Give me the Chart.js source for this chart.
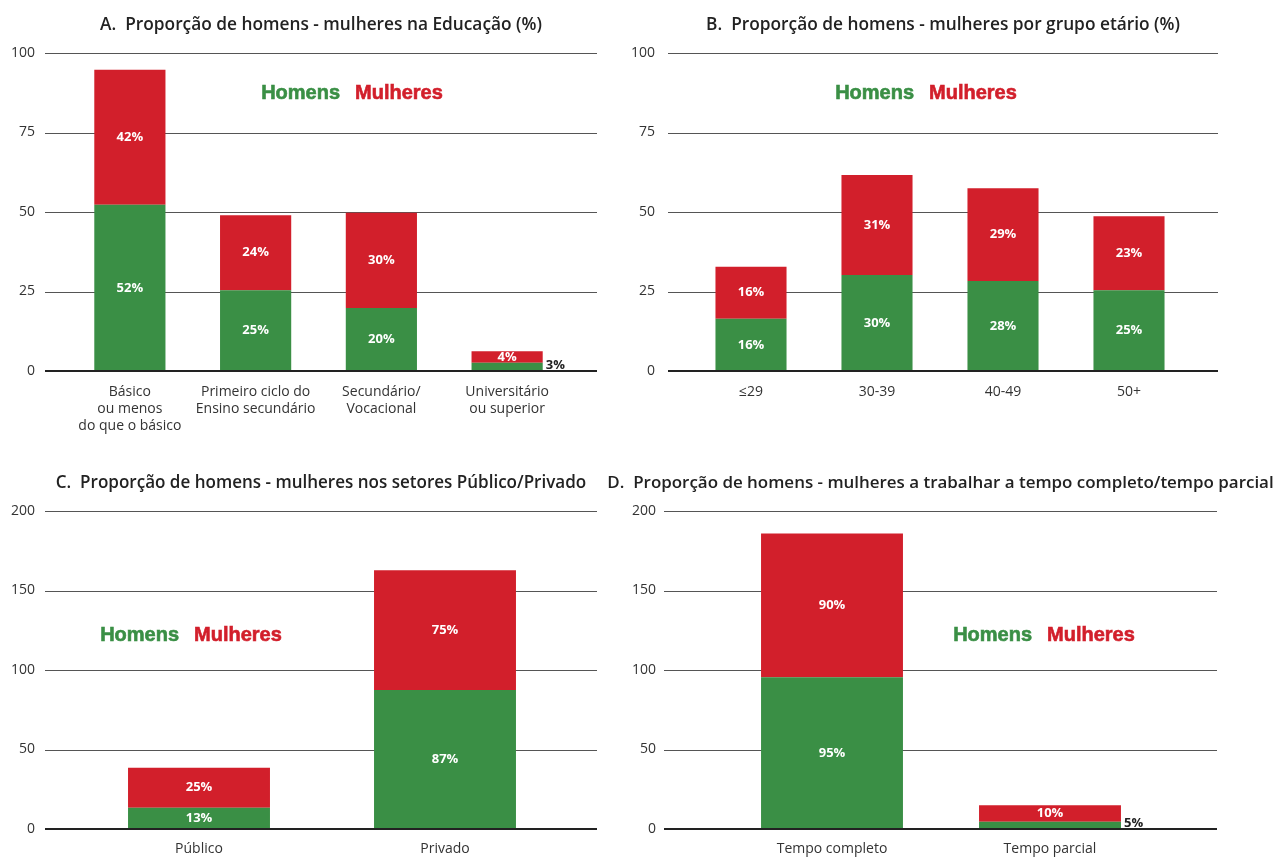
<!DOCTYPE html>
<html>
<head>
<meta charset="utf-8">
<script src="https://cdn.jsdelivr.net/npm/chart.js@4.4.1/dist/chart.umd.min.js"></script>
<style>
  html, body { margin: 0; padding: 0; background: #ffffff; }
  body { width: 1277px; height: 858px; position: relative; overflow: hidden; }
  canvas { position: absolute; }
</style>
</head>
<body>
<canvas id="cA" width="640" height="440" style="left:0px;top:0px"></canvas>
<canvas id="cB" width="657" height="440" style="left:620px;top:0px"></canvas>
<canvas id="cC" width="640" height="418" style="left:0px;top:440px"></canvas>
<canvas id="cD" width="677" height="418" style="left:600px;top:440px"></canvas>
<script>
// ---------------- DATA ----------------
const seriesNames = ['Homens', 'Mulheres'];

const titleA = 'A.  Proporção de homens - mulheres na Educação (%)';
const eduCategories = [['Básico', 'ou menos', 'do que o básico'], ['Primeiro ciclo do', 'Ensino secundário'], ['Secundário/', 'Vocacional'], ['Universitário', 'ou superior']];
const eduMen = [52.3, 25.4, 19.8, 2.6];
const eduWomen = [42.4, 23.6, 30.0, 3.6];
const eduTicks = [0, 25, 50, 75, 100];

const titleB = 'B.  Proporção de homens - mulheres por grupo etário (%)';
const ageCategories = ['≤29', '30-39', '40-49', '50+'];
const ageMen = [16.4, 30.2, 28.3, 25.4];
const ageWomen = [16.4, 31.4, 29.2, 23.3];
const ageTicks = [0, 25, 50, 75, 100];

const titleC = 'C.  Proporção de homens - mulheres nos setores Público/Privado';
const sectorCategories = ['Público', 'Privado'];
const sectorMen = [13.4, 87.4];
const sectorWomen = [25.2, 75.4];
const sectorTicks = [0, 50, 100, 150, 200];

const titleD = 'D.  Proporção de homens - mulheres a trabalhar a tempo completo/tempo parcial';
const timeCategories = ['Tempo completo', 'Tempo parcial'];
const timeMen = [95.4, 4.6];
const timeWomen = [90.4, 10.4];
const timeTicks = [0, 50, 100, 150, 200];

// ---------------- STYLE ----------------
const GREEN = '#3a8f45';
const RED = '#d21f2b';
const TEXT = '#333333';
const BODY_FONT = "'Open Sans', 'DejaVu Sans', sans-serif";
const LEGEND_FONT = "'Liberation Sans', Arial, sans-serif";

const decorPlugin = {
  id: 'panelDecor',
  beforeDatasetsDraw(chart, args, opts) {
    const ctx = chart.ctx, a = chart.chartArea, y = chart.scales.y;
    ctx.save();
    y.ticks.forEach(t => {
      if (t.value === 0) return;
      const py = Math.round(y.getPixelForValue(t.value)) + 0.5;
      ctx.strokeStyle = '#555555';
      ctx.lineWidth = 1.2;
      ctx.beginPath();
      ctx.moveTo(a.left - opts.extL, py);
      ctx.lineTo(a.right + opts.extR, py);
      ctx.stroke();
    });
    ctx.restore();
  },
  afterDatasetsDraw(chart, args, opts) {
    const ctx = chart.ctx, a = chart.chartArea, y = chart.scales.y;
    ctx.save();
    // zero line
    const py0 = Math.round(y.getPixelForValue(0));
    ctx.strokeStyle = '#222222';
    ctx.lineWidth = 1.8;
    ctx.beginPath();
    ctx.moveTo(a.left - opts.extL, py0);
    ctx.lineTo(a.right + opts.extR, py0);
    ctx.stroke();

    // value labels
    ctx.font = "700 13px " + BODY_FONT;
    ctx.textBaseline = 'middle';
    chart.data.datasets.forEach((ds, di) => {
      const meta = chart.getDatasetMeta(di);
      meta.data.forEach((bar, i) => {
        const txt = Math.round(ds.data[i]) + '%';
        const h = Math.abs(bar.base - bar.y);
        if (h < 10) {
          ctx.fillStyle = '#222222';
          ctx.textAlign = 'left';
          ctx.textBaseline = 'bottom';
          ctx.fillText(txt, bar.x + bar.width / 2 + 3, bar.base + 1);
          ctx.textBaseline = 'middle';
        } else {
          ctx.fillStyle = '#ffffff';
          ctx.textAlign = 'center';
          ctx.fillText(txt, bar.x, (bar.y + bar.base) / 2);
        }
      });
    });

    // title
    ctx.fillStyle = '#222222';
    ctx.font = "600 " + opts.titleSize + "px " + BODY_FONT;
    ctx.textAlign = 'center';
    ctx.textBaseline = 'middle';
    const cx = ((a.left - opts.extL) + (a.right + opts.extR)) / 2;
    ctx.fillText(opts.title, cx, opts.titleY);

    // legend text
    ctx.font = "700 20px " + LEGEND_FONT;
    ctx.lineWidth = 0.6;
    const gap = 15;
    const w1 = ctx.measureText(seriesNames[0]).width;
    const w2 = ctx.measureText(seriesNames[1]).width;
    let lx = opts.legendX - (w1 + gap + w2) / 2;
    ctx.textAlign = 'left';
    ctx.fillStyle = GREEN;
    ctx.strokeStyle = GREEN;
    ctx.fillText(seriesNames[0], lx, opts.legendY);
    ctx.strokeText(seriesNames[0], lx, opts.legendY);
    ctx.fillStyle = RED;
    ctx.strokeStyle = RED;
    ctx.fillText(seriesNames[1], lx + w1 + gap, opts.legendY);
    ctx.strokeText(seriesNames[1], lx + w1 + gap, opts.legendY);
    ctx.restore();
  }
};

function makeChart(id, labels, men, women, ticks, p) {
  const canvas = document.getElementById(id);
  return new Chart(canvas, {
    type: 'bar',
    data: {
      labels: labels,
      datasets: [
        { label: seriesNames[0], data: men, backgroundColor: GREEN, categoryPercentage: 1, barPercentage: p.barPct, borderWidth: 0 },
        { label: seriesNames[1], data: women, backgroundColor: RED, categoryPercentage: 1, barPercentage: p.barPct, borderWidth: 0 }
      ]
    },
    options: {
      responsive: false,
      animation: false,
      devicePixelRatio: 1,
      layout: { padding: { left: 0, top: p.top, right: canvas.width - p.right, bottom: 0 } },
      scales: {
        x: {
          stacked: true,
          grid: { display: false, drawTicks: false },
          border: { display: false },
          ticks: { color: TEXT, font: { family: BODY_FONT, size: 14 }, padding: p.xPad, maxRotation: 0, autoSkip: false },
          afterFit: s => { s.height = canvas.height - p.bottom; }
        },
        y: {
          stacked: true,
          min: ticks[0],
          max: ticks[ticks.length - 1],
          grid: { display: false, drawTicks: false },
          border: { display: false },
          ticks: { stepSize: ticks[1] - ticks[0], color: TEXT, font: { family: BODY_FONT, size: 14 }, padding: p.left - p.tickRight },
          afterFit: s => { s.width = p.left; s.paddingTop = 0; s.paddingBottom = 0; }
        }
      },
      plugins: {
        legend: { display: false },
        tooltip: { enabled: false },
        title: { display: false },
        panelDecor: { extL: p.extL, extR: p.extR, title: p.title, titleY: p.titleY, titleSize: p.titleSize, legendX: p.legendX, legendY: p.legendY }
      }
    },
    plugins: [decorPlugin]
  });
}

makeChart('cA', eduCategories, eduMen, eduWomen, eduTicks,
  { left: 67, right: 570, top: 53, bottom: 371, tickRight: 35, extL: 22, extR: 27, barPct: 0.566, xPad: 13,
    title: titleA, titleY: 25, titleSize: 17.3, legendX: 352, legendY: 93 });
makeChart('cB', ageCategories, ageMen, ageWomen, ageTicks,
  { left: 68, right: 572, top: 53, bottom: 371, tickRight: 35, extL: 20, extR: 26, barPct: 0.564, xPad: 13,
    title: titleB, titleY: 25, titleSize: 17.3, legendX: 306, legendY: 93 });
makeChart('cC', sectorCategories, sectorMen, sectorWomen, sectorTicks,
  { left: 76, right: 568, top: 71, bottom: 389, tickRight: 35, extL: 31, extR: 29, barPct: 0.577, xPad: 12,
    title: titleC, titleY: 43, titleSize: 17.05, legendX: 191, legendY: 195 });
makeChart('cD', timeCategories, timeMen, timeWomen, timeTicks,
  { left: 123, right: 559, top: 71, bottom: 389, tickRight: 56, extL: 59, extR: 58, barPct: 0.651, xPad: 12,
    title: titleD, titleY: 43, titleSize: 16.95, legendX: 444, legendY: 195 });
</script>
</body>
</html>
